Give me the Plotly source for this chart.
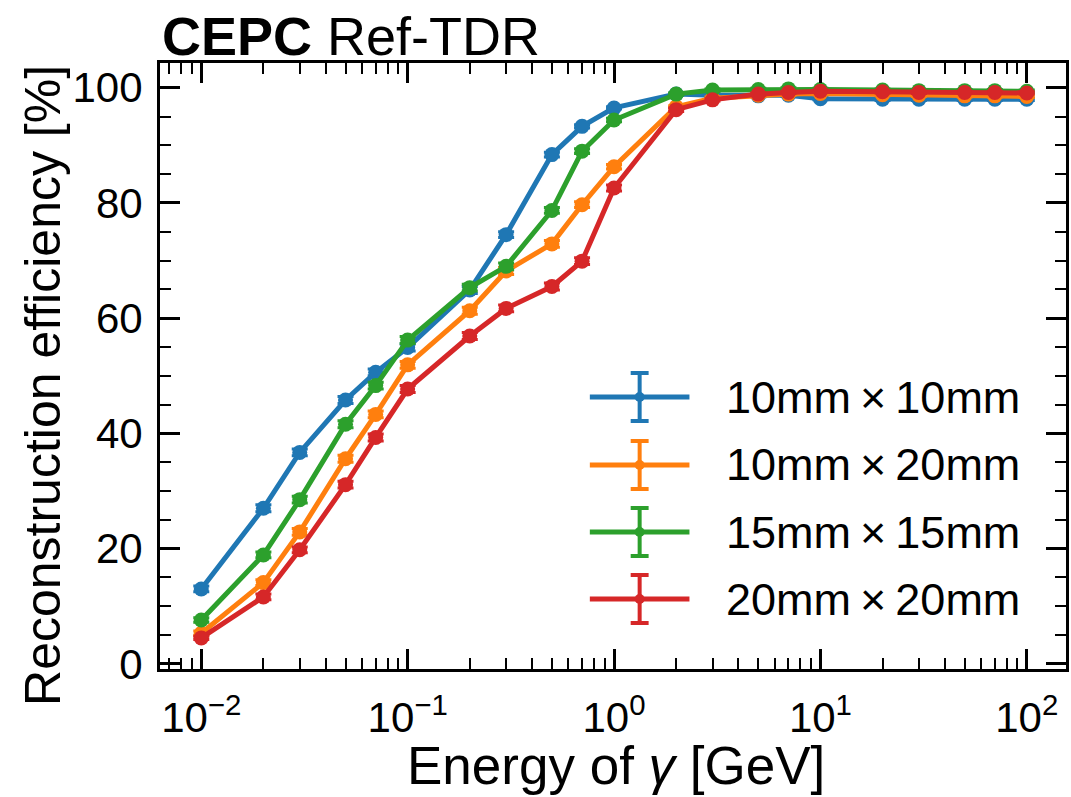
import plotly.graph_objects as go

energy = [0.01, 0.02, 0.03, 0.05, 0.07, 0.1, 0.2, 0.3, 0.5, 0.7, 1,
          2, 3, 5, 7, 10, 20, 30, 50, 70, 100]

eff_10x10 = [13.0, 27.0, 36.7, 45.8, 50.6, 54.9, 64.9, 74.5, 88.4, 93.3, 96.5,
             98.9, 98.7, 98.6, 98.7, 98.1, 98.0, 98.0, 98.0, 98.0, 98.0]
eff_10x20 = [5.3, 14.1, 22.9, 35.6, 43.3, 51.9, 61.3, 68.2, 72.9, 79.7, 86.3,
             96.7, 98.2, 98.7, 98.9, 99.0, 98.8, 98.7, 98.6, 98.6, 98.5]
eff_15x15 = [7.6, 18.9, 28.5, 41.6, 48.3, 56.2, 65.3, 69.0, 78.7, 89.0, 94.4,
             98.9, 99.6, 99.7, 99.8, 99.7, 99.6, 99.5, 99.5, 99.5, 99.4]
eff_20x20 = [4.5, 11.6, 19.8, 31.1, 39.3, 47.7, 56.9, 61.7, 65.5, 69.9, 82.6,
             96.2, 97.9, 98.9, 99.2, 99.4, 99.3, 99.2, 99.2, 99.2, 99.1]

err_10x10 = [0.5, 0.6, 0.6, 0.6, 0.6, 0.6, 0.6, 0.5, 0.4, 0.3, 0.2,
             0.2, 0.2, 0.2, 0.2, 0.2, 0.2, 0.2, 0.2, 0.2, 0.2]
err_10x20 = [0.4, 0.5, 0.6, 0.6, 0.6, 0.6, 0.6, 0.6, 0.6, 0.5, 0.4,
             0.2, 0.2, 0.2, 0.2, 0.2, 0.2, 0.2, 0.2, 0.2, 0.2]
err_15x15 = [0.4, 0.5, 0.6, 0.6, 0.6, 0.6, 0.6, 0.6, 0.5, 0.4, 0.3,
             0.2, 0.2, 0.2, 0.2, 0.2, 0.2, 0.2, 0.2, 0.2, 0.2]
err_20x20 = [0.3, 0.5, 0.5, 0.6, 0.6, 0.6, 0.6, 0.6, 0.6, 0.6, 0.5,
             0.3, 0.2, 0.2, 0.2, 0.2, 0.2, 0.2, 0.2, 0.2, 0.2]

names = ["10mm\u2009×\u200910mm", "10mm\u2009×\u200920mm",
         "15mm\u2009×\u200915mm", "20mm\u2009×\u200920mm"]
colors = ["#1f77b4", "#ff7f0e", "#2ca02c", "#d62728"]

x_tickvals = [0.01, 0.1, 1, 10, 100]
x_ticktext = ["10<sup>\u22122</sup>", "10<sup>\u22121</sup>", "10<sup>0</sup>",
              "10<sup>1</sup>", "10<sup>2</sup>"]
y_tickvals = [0, 20, 40, 60, 80, 100]

FONT = "Liberation Sans, Arial, sans-serif"

fig = go.Figure()
series = [eff_10x10, eff_10x20, eff_15x15, eff_20x20]
errs = [err_10x10, err_10x20, err_15x15, err_20x20]
for vals, err, name, col in zip(series, errs, names, colors):
    fig.add_trace(go.Scatter(
        x=energy, y=vals, name=name, mode="lines+markers",
        line=dict(color=col, width=5),
        marker=dict(color=col, size=15),
        error_y=dict(type="data", array=err, color=col, thickness=3, width=8),
        showlegend=False,
    ))

# manual matplotlib-style legend (line + errorbar glyph + label)
L, T, B = 159.5, 63.0, 669.0
pw, ph = 1069.0 - L, B - T
row_px = [397, 465, 532, 599]
for i, (name, col) in enumerate(zip(names, colors)):
    yc = (B - row_px[i]) / ph
    x0 = (591 - L) / pw
    x1 = (691 - L) / pw
    xc = (641 - L) / pw
    dy = 24 / ph
    cx = 9 / pw
    fig.add_shape(type="line", xref="paper", yref="paper", x0=x0, x1=x1, y0=yc, y1=yc,
                  line=dict(color=col, width=5))
    fig.add_shape(type="line", xref="paper", yref="paper", x0=xc, x1=xc, y0=yc - dy, y1=yc + dy,
                  line=dict(color=col, width=4))
    for s in (-1, 1):
        fig.add_shape(type="line", xref="paper", yref="paper", x0=xc - cx, x1=xc + cx,
                      y0=yc + s * dy, y1=yc + s * dy, line=dict(color=col, width=4))
    fig.add_shape(type="circle", xref="paper", yref="paper",
                  x0=xc - 5 / pw, x1=xc + 5 / pw, y0=yc - 5 / ph, y1=yc + 5 / ph,
                  fillcolor=col, line=dict(color=col, width=0))
    fig.add_annotation(text=name, xref="paper", yref="paper",
                       x=(726 - L) / pw, y=yc, xanchor="left", yanchor="middle",
                       showarrow=False, font=dict(family=FONT, size=45, color="black"))

# header
fig.add_annotation(text="<b>CEPC</b> Ref-TDR", xref="paper", yref="paper",
                   x=0.0, y=(B - 36) / ph, xanchor="left", yanchor="middle",
                   showarrow=False, font=dict(family=FONT, size=54, color="black"))
# axis titles
fig.add_annotation(text="Energy of <i>γ</i> [GeV]", xref="paper", yref="paper",
                   x=(617 - L) / pw, y=(B - 765) / ph, xanchor="center", yanchor="middle",
                   showarrow=False, font=dict(family=FONT, size=53, color="black"))
fig.add_annotation(text="Reconstruction efficiency [%]", xref="paper", yref="paper",
                   x=(42 - L) / pw, y=(B - 385) / ph, xanchor="center", yanchor="middle",
                   textangle=-90, showarrow=False, font=dict(family=FONT, size=50, color="black"))

axis_common = dict(showline=True, linecolor="black", linewidth=3, mirror="allticks",
                   ticks="inside", ticklen=20, tickwidth=2.5, tickcolor="black",
                   showgrid=False, zeroline=False,
                   tickfont=dict(family=FONT, size=42, color="black"))

minor_x = []
for d in [0.001, 0.01, 0.1, 1, 10, 100]:
    for k in range(2, 10):
        minor_x.append(d * k)

fig.update_xaxes(type="log", range=[-2.2, 2.19], tickmode="array",
                 tickvals=x_tickvals, ticktext=x_ticktext,
                 minor=dict(ticks="inside", ticklen=11, tickwidth=2, tickcolor="black",
                            tickmode="array", tickvals=minor_x, showgrid=False),
                 ticklabelstandoff=10,
                 **axis_common)
fig.update_yaxes(range=[-0.9, 104.3], tickmode="array", tickvals=y_tickvals,
                 minor=dict(ticks="inside", ticklen=11, tickwidth=2, tickcolor="black",
                            dtick=5, showgrid=False),
                 ticklabelstandoff=6,
                 **axis_common)

fig.update_layout(width=1071, height=797, autosize=False,
                  margin=dict(l=L, r=1071 - 1069, t=T, b=797 - B),
                  plot_bgcolor="white", paper_bgcolor="white",
                  font=dict(family=FONT, color="black"), showlegend=False)

fig.write_html("out.html", config={"displayModeBar": False},
               post_script="document.body.style.margin='0';document.body.style.padding='0';"
                           "document.body.style.overflow='hidden';")
